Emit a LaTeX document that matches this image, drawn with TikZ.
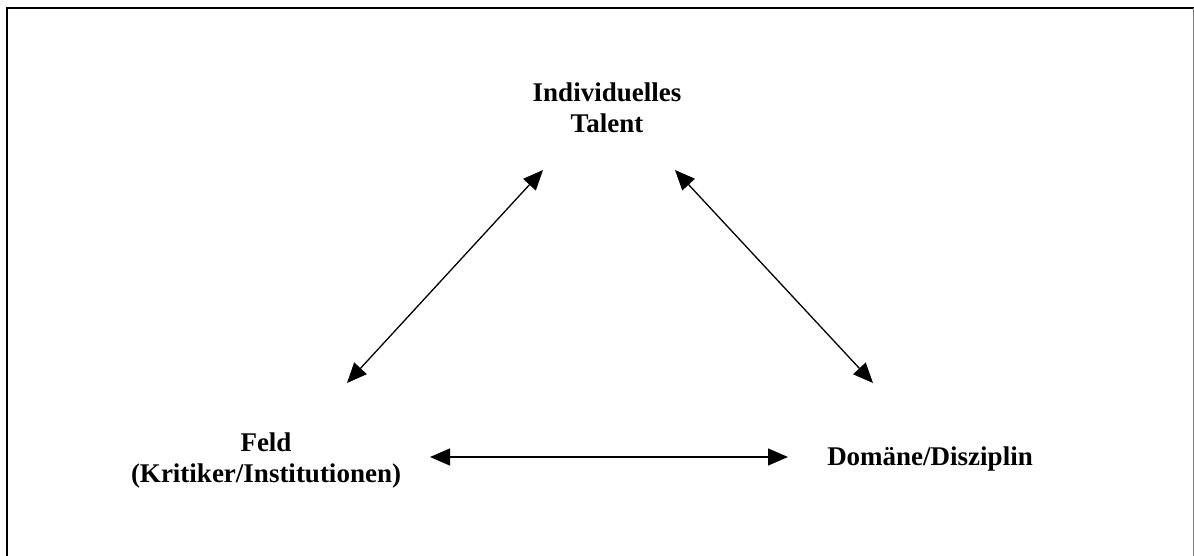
\documentclass[tikz,border=0pt]{standalone}
\usepackage{fontspec}
\setmainfont{Liberation Serif}
\usetikzlibrary{arrows.meta}
\begin{document}
\begin{tikzpicture}[x=1pt,y=-1pt,
  lbl/.style={font=\bfseries\fontsize{27}{31}\selectfont, inner sep=0pt, align=center},
  link/.style={line width=1.3pt, {Triangle[length=20pt,width=17pt]}-{Triangle[length=20pt,width=17pt]}}]
\useasboundingbox (0,0) rectangle (1194,556);
\fill[white] (0,0) rectangle (1194,556);
% frame
\draw[line width=2pt] (7,556) -- (7,8) -- (1194,8);
\draw[line width=1pt, gray] (1193,8) -- (1193,556);
% labels
\node[lbl] (ind) at (607,108) {Individuelles\\Talent};
\node[lbl] (feld) at (266,461) {Feld\\(Kritiker/Institutionen)};
\node[lbl, anchor=base] (dom) at (930,465) {Domäne/Disziplin};
% arrow ends
\coordinate (a1) at (543,170);
\coordinate (a2) at (347,383);
\coordinate (b1) at (675,170);
\coordinate (b2) at (873,383);
\coordinate (c1) at (430,457);
\coordinate (c2) at (788,457);
\draw[link] (a1) -- (a2);
\draw[link] (b1) -- (b2);
\draw[link] (c1) -- (c2);
\end{tikzpicture}
\end{document}
